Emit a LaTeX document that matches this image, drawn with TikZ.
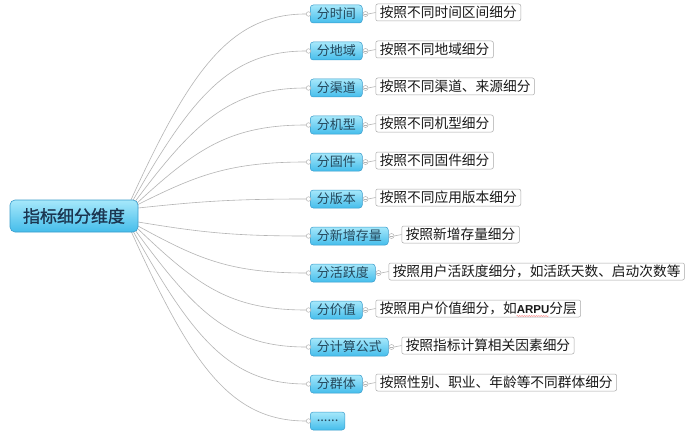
\documentclass[tikz,border=0pt]{standalone}
\usepackage{fontspec}
\setmainfont{Noto Sans CJK SC}
\newfontfamily\rootfont{Noto Sans CJK SC}[AutoFakeBold=1.2]
\newfontfamily\arfont{Liberation Sans}
\usetikzlibrary{calc,decorations.pathmorphing}
\pgfdeclarelayer{background}
\pgfsetlayers{background,main}
\newcommand\moredots{......}
\definecolor{brtop}{HTML}{A6E8FB}
\definecolor{brbot}{HTML}{45BDEB}
\definecolor{brdraw}{HTML}{3A9CCB}
\definecolor{brtext}{HTML}{24485C}
\definecolor{roottext}{HTML}{1B3550}
\definecolor{linegray}{HTML}{B4B4B4}
\definecolor{boxgray}{HTML}{A8A8A8}
\tikzset{
  rootbox/.style={rectangle, rounded corners=5pt, draw=brdraw, line width=0.6pt,
    top color=brtop, bottom color=brbot, minimum width=128pt, minimum height=32pt,
    inner sep=0pt, font=\rootfont\bfseries\fontsize{17pt}{20pt}\selectfont, text=roottext},
  branch/.style={rectangle, rounded corners=3pt, draw=brdraw, line width=0.5pt,
    top color=brtop, bottom color=brbot, minimum height=18pt, inner xsep=6.5pt,
    inner ysep=0pt, font=\fontsize{13pt}{15pt}\selectfont, text=brtext, anchor=west},
  note/.style={rectangle, rounded corners=2pt, draw=boxgray, line width=0.5pt,
    fill=white, minimum height=17pt, inner xsep=4pt, inner ysep=0pt,
    font=\fontsize{13.7pt}{16pt}\selectfont, text=black!90, anchor=west},
  enddot/.style={circle, draw=linegray, fill=white, line width=0.5pt, inner sep=0pt,
    minimum size=4.5pt},
  collapse/.style={circle, draw=linegray, fill=white, line width=0.5pt, inner sep=0pt,
    minimum size=5pt, path picture={\draw[linegray, line width=0.4pt]
      ([xshift=-1.4pt]path picture bounding box.center) --
      ([xshift=1.4pt]path picture bounding box.center);}},
  conn/.style={draw=linegray, line width=0.6pt},
}
\begin{document}
\begin{tikzpicture}[x=1pt, y=-1pt]
\useasboundingbox (0,0) rectangle (690,433);
\begin{pgfonlayer}{background}
\fill[white] (0,0) rectangle (690,433);
\end{pgfonlayer}

\node[rootbox] (root) at (74,216) {指标细分维度};

\foreach \i/\lab in {1/分时间, 2/分地域, 3/分渠道, 4/分机型, 5/分固件, 6/分版本,
  7/分新增存量, 8/分活跃度, 9/分价值, 10/分计算公式, 11/分群体, 12/\moredots} {
  \node[branch] (b\i) at (310, {14+37*(\i-1)}) {\lab};
  \node[enddot] (e\i) at ($(b\i.west)+(-1.5pt,0pt)$) {};
}

\foreach \i/\txt in {1/按照不同时间区间细分, 2/按照不同地域细分, 3/按照不同渠道、来源细分,
  4/按照不同机型细分, 5/按照不同固件细分, 6/按照不同应用版本细分, 7/按照新增存量细分,
  8/按照用户活跃度细分，如活跃天数、启动次数等,
  9/按照用户价值细分，如{\arfont\bfseries\fontsize{11.5pt}{13pt}\selectfont ARPU}分层,
  10/按照指标计算相关因素细分, 11/按照性别、职业、年龄等不同群体细分} {
  \node[collapse] (k\i) at ($(b\i.east)+(3pt,0pt)$) {};
  \node[note] (t\i) at ($(b\i.east)+(13pt,1.5pt)$) {\txt};
  \draw[conn] (k\i.east) .. controls +(3pt,0pt) and +(-3pt,0pt) .. (t\i.west);
}

\draw[red!60, line width=0.35pt, decorate, decoration={snake, amplitude=0.5pt, segment length=2.4pt}]
  ($(t9.west)+(141pt,-7.5pt)$) -- ($(t9.west)+(173pt,-7.5pt)$);

\coordinate (s1) at (130,202);
\coordinate (s2) at (132,202);
\coordinate (s3) at (134,203);
\coordinate (s4) at (136,204);
\coordinate (s5) at (137,205);
\coordinate (s6) at (138,208);
\coordinate (s7) at (138,222);
\coordinate (s8) at (138,226);
\coordinate (s9) at (137,228);
\coordinate (s10) at (135,230);
\coordinate (s11) at (133,231);
\coordinate (s12) at (131,231);

\begin{pgfonlayer}{background}
\foreach \i in {1,...,12} {
  \draw[conn] let \p1=(s\i), \p2=(e\i.west) in
    (\p1) .. controls ({\x1+60pt},{0.3*\y1+0.7*\y2}) and (230pt,\y2) .. (\p2);
}
\end{pgfonlayer}
\end{tikzpicture}
\end{document}
